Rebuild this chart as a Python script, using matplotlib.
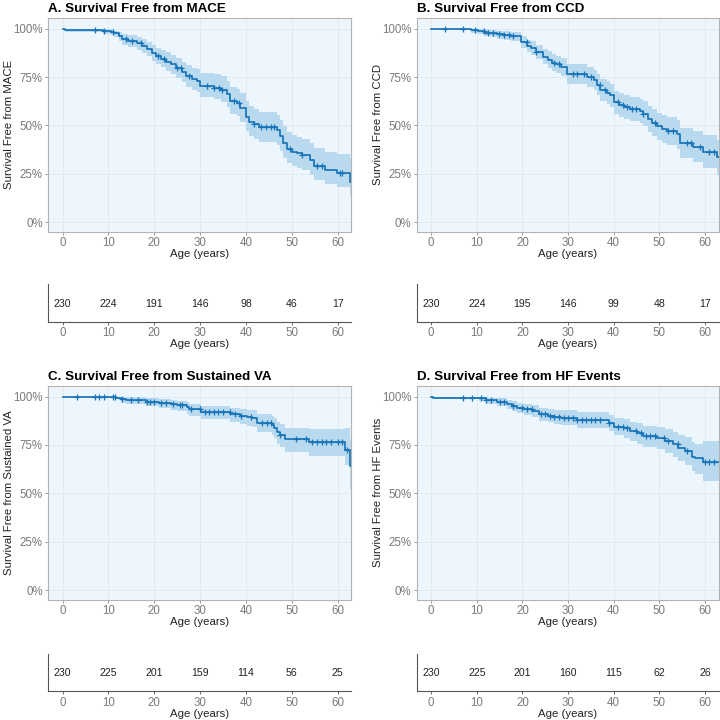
import numpy as np
import matplotlib
matplotlib.use("Agg")
import matplotlib.pyplot as plt

plt.rcParams['font.family'] = ['Liberation Sans', 'DejaVu Sans']

# ---- data ----
tA = [0, 0.4, 8.7, 10.5, 11.2, 12.3, 13, 14.2, 16.3, 17.4, 18.5, 19.6, 20.3, 21.4, 22.5, 23.6, 24.7, 26.1, 26.9, 28.3,
      29.4, 30, 33, 34.5, 35.9, 36.6, 38.1, 38.8, 39.9, 40.6, 41.7, 42.8, 46.8, 47.5, 48.1, 49, 50, 51.2, 52.2, 54,
      54.8, 57.3, 59.9, 62.6, 63]
sA = [1.0, 0.995, 0.988, 0.985, 0.975, 0.96, 0.945, 0.935, 0.925, 0.91, 0.895, 0.875, 0.86, 0.845, 0.83, 0.815, 0.795, 0.775, 0.755, 0.74,
      0.73, 0.705, 0.695, 0.685, 0.66, 0.625, 0.615, 0.59, 0.545, 0.52, 0.505, 0.49, 0.475, 0.445, 0.41, 0.38, 0.365, 0.355, 0.345, 0.32,
      0.29, 0.27, 0.255, 0.21, 0.21]
loA = [1.0, 0.985, 0.972, 0.968, 0.955, 0.935, 0.918, 0.905, 0.892, 0.875, 0.857, 0.835, 0.818, 0.80, 0.783, 0.766, 0.744, 0.722, 0.70, 0.683,
       0.672, 0.645, 0.634, 0.622, 0.595, 0.558, 0.547, 0.52, 0.473, 0.447, 0.43, 0.415, 0.40, 0.37, 0.334, 0.305, 0.29, 0.28, 0.27, 0.245,
       0.216, 0.195, 0.18, 0.135, 0.135]
upA = [1.0, 1.0, 1.0, 1.0, 0.99, 0.982, 0.972, 0.965, 0.957, 0.945, 0.933, 0.915, 0.902, 0.89, 0.877, 0.864, 0.846, 0.828, 0.81, 0.797,
       0.79, 0.77, 0.765, 0.755, 0.732, 0.70, 0.69, 0.668, 0.625, 0.60, 0.585, 0.57, 0.555, 0.527, 0.495, 0.465, 0.45, 0.44, 0.432, 0.41,
       0.383, 0.363, 0.35, 0.33, 0.33]
cA = [7.1, 9.1, 10.9, 13.8, 15.2, 17, 20.7, 22.1, 25, 25.8, 27.6, 31.6, 33, 34.1, 34.8, 37.3, 38.4, 41.7, 43.2, 44.3,
      45.4, 46.1, 49.7, 52.2, 55.5, 56.6, 60.6, 61]

tB = [0, 8.7, 10.2, 11.6, 13, 14.5, 16, 17.5, 19.6, 21.1, 21.8, 22.9, 24.4, 25.5, 26.5, 27.3, 28.4, 29.8, 34.2, 35.6,
      36.4, 37.1, 38.5, 39.3, 40, 41.1, 42.2, 43.6, 45.8, 46.5, 47.6, 48.4, 49.5, 50.5, 51.6, 53.8, 54.5, 57.5, 59.6, 62.7, 63]
sB = [1.0, 0.993, 0.986, 0.98, 0.975, 0.97, 0.965, 0.96, 0.93, 0.91, 0.90, 0.88, 0.855, 0.84, 0.825, 0.815, 0.80, 0.765, 0.75, 0.735,
      0.71, 0.685, 0.67, 0.655, 0.62, 0.605, 0.595, 0.585, 0.575, 0.56, 0.535, 0.515, 0.495, 0.48, 0.47, 0.455, 0.41, 0.39, 0.365, 0.335, 0.335]
loB = [1.0, 0.98, 0.97, 0.962, 0.955, 0.948, 0.94, 0.935, 0.90, 0.877, 0.865, 0.843, 0.815, 0.798, 0.782, 0.77, 0.753, 0.715, 0.698, 0.682,
       0.655, 0.628, 0.612, 0.596, 0.56, 0.544, 0.533, 0.522, 0.511, 0.495, 0.468, 0.447, 0.425, 0.408, 0.397, 0.38, 0.333, 0.31, 0.282, 0.245, 0.245]
upB = [1.0, 1.0, 1.0, 0.998, 0.995, 0.99, 0.988, 0.985, 0.96, 0.943, 0.935, 0.917, 0.895, 0.882, 0.868, 0.86, 0.847, 0.815, 0.802, 0.788,
       0.765, 0.742, 0.728, 0.714, 0.68, 0.666, 0.657, 0.648, 0.639, 0.625, 0.602, 0.583, 0.565, 0.552, 0.543, 0.53, 0.487, 0.47, 0.448, 0.425, 0.425]
cB = [3, 7, 9.5, 11.5, 12.5, 13.5, 14.8, 16, 17, 18, 21, 23, 27, 28, 31, 32, 33.5, 35, 37, 38,
      41, 42, 43, 44, 45, 46.5, 49, 52, 53, 56, 57, 59, 61, 62]

tC = [0, 11.6, 12.7, 13.8, 18.1, 21, 23.6, 25, 27.2, 27.6, 30.1, 36.6, 38.8, 40.3, 41.4, 42.4, 45.7, 46.1, 46.7, 47.5,
      48.6, 53.7, 61.7, 62.8, 63]
sC = [1.0, 0.995, 0.985, 0.98, 0.973, 0.968, 0.96, 0.955, 0.945, 0.935, 0.922, 0.91, 0.902, 0.895, 0.89, 0.865, 0.855, 0.84, 0.815, 0.80,
      0.78, 0.765, 0.725, 0.64, 0.64]
loC = [1.0, 0.985, 0.968, 0.96, 0.95, 0.943, 0.932, 0.925, 0.912, 0.90, 0.885, 0.87, 0.86, 0.85, 0.845, 0.815, 0.803, 0.785, 0.757, 0.74,
       0.715, 0.695, 0.645, 0.52, 0.52]
upC = [1.0, 1.0, 1.0, 0.997, 0.99, 0.987, 0.982, 0.978, 0.97, 0.962, 0.952, 0.943, 0.938, 0.932, 0.93, 0.91, 0.902, 0.89, 0.868, 0.856,
       0.84, 0.83, 0.835, 0.78, 0.78]
cC = [3.2, 7, 8, 9, 11, 11.5, 13, 15, 16.5, 18.5, 19, 20, 21.5, 22.5, 24, 25.5, 26, 28, 30, 31, 32, 33, 34, 35,
      36.5, 37.5, 39, 41, 43.5, 44.5, 45.5, 47.5, 51, 53, 54.5, 55.5, 56.5, 57.5, 58.5, 60, 61, 62]

tD = [0, 0.4, 10.5, 12, 14.5, 16.7, 17.8, 18.9, 20.4, 22.2, 23.6, 25.5, 26.9, 28.4, 32, 38.9, 40, 42.2, 43.6, 45.1,
      46.5, 49.5, 51.3, 53.1, 54.2, 55.6, 57.1, 57.8, 59.6, 63]
sD = [1.0, 0.995, 0.99, 0.98, 0.973, 0.96, 0.95, 0.94, 0.935, 0.925, 0.91, 0.902, 0.895, 0.89, 0.88, 0.865, 0.845, 0.835, 0.82, 0.81,
      0.795, 0.785, 0.77, 0.755, 0.735, 0.72, 0.69, 0.68, 0.66, 0.66]
loD = [1.0, 0.985, 0.977, 0.963, 0.953, 0.937, 0.925, 0.913, 0.906, 0.894, 0.876, 0.866, 0.858, 0.852, 0.84, 0.823, 0.80, 0.788, 0.77, 0.757,
       0.74, 0.727, 0.708, 0.69, 0.667, 0.648, 0.613, 0.60, 0.565, 0.565]
upD = [1.0, 1.0, 1.0, 0.995, 0.99, 0.982, 0.975, 0.967, 0.963, 0.955, 0.943, 0.937, 0.932, 0.928, 0.92, 0.907, 0.89, 0.882, 0.87, 0.862,
       0.85, 0.842, 0.83, 0.818, 0.802, 0.79, 0.765, 0.757, 0.77, 0.77]
cD = [7, 9, 11, 12, 13, 15, 16, 18, 20, 21, 22, 24, 25, 26, 27, 28, 29, 30, 31, 32, 33, 34, 35, 36, 37,
      39, 41, 42, 43, 45, 46, 47, 48, 49, 51, 52, 54, 56, 60, 61, 62]

risk_times = [0, 10, 20, 30, 40, 50, 60]
riskA = [230, 224, 191, 146, 98, 46, 17]
riskB = [230, 224, 195, 146, 99, 48, 17]
riskC = [230, 225, 201, 159, 114, 56, 25]
riskD = [230, 225, 201, 160, 115, 62, 26]

titles = ["A. Survival Free from MACE", "B. Survival Free from CCD",
          "C. Survival Free from Sustained VA", "D. Survival Free from HF Events"]
ylabels = ["Survival Free from MACE", "Survival Free from CCD",
           "Survival Free from Sustained VA", "Survival Free from HF Events"]

panels = [(tA, sA, loA, upA, cA, riskA), (tB, sB, loB, upB, cB, riskB),
          (tC, sC, loC, upC, cC, riskC), (tD, sD, loD, upD, cD, riskD)]

LINE = '#1874b8'
BAND = '#b9d9ee'
BG = '#eef6fd'

# axes positions [left, bottom, width, height] in figure fraction
main_pos = [[0.067, 0.678, 0.421, 0.297], [0.579, 0.678, 0.419, 0.297],
            [0.067, 0.167, 0.421, 0.297], [0.579, 0.167, 0.419, 0.297]]
table_pos = [[0.067, 0.553, 0.421, 0.052], [0.579, 0.553, 0.419, 0.052],
             [0.067, 0.040, 0.421, 0.052], [0.579, 0.040, 0.419, 0.052]]

fig = plt.figure(figsize=(7.2, 7.2), dpi=100)

for i, (t, s, lo, up, cens, risk) in enumerate(panels):
    ax = fig.add_axes(main_pos[i])
    ax.set_facecolor(BG)
    ax.fill_between(t, lo, up, step='post', color=BAND, linewidth=0)
    ax.step(t, s, where='post', color=LINE, lw=1.25)
    # censor marks sit on the curve
    idx = np.searchsorted(t, cens, side='right') - 1
    ax.plot(cens, np.array(s)[idx], '+', color=LINE, ms=5, mew=0.9)
    ax.set_xlim(-3.15, 63)
    ax.set_ylim(-0.05, 1.055)
    ax.set_xticks(risk_times)
    ax.set_yticks([0, 0.25, 0.5, 0.75, 1.0])
    ax.set_yticklabels(['0%', '25%', '50%', '75%', '100%'])
    ax.grid(True, color='#dde5ec', lw=0.5)
    ax.set_axisbelow(True)
    for sp in ax.spines.values():
        sp.set_color('#b3b3b3')
        sp.set_linewidth(0.8)
    ax.tick_params(colors='#8a8a8a', labelcolor='#7a7a7a', labelsize=8.3, length=2.5, width=0.6, pad=1.5)
    ax.set_xlabel("Age (years)", fontsize=8.2, color='#222222', labelpad=0)
    ax.set_ylabel(ylabels[i], fontsize=8.2, color='#222222')
    ax.yaxis.set_label_coords(-0.112, 0.5)
    ax.set_title(titles[i], fontsize=9.6, fontweight='bold', loc='left', x=-0.0, pad=4)

    tb = fig.add_axes(table_pos[i])
    tb.set_xlim(-3.15, 63)
    tb.set_ylim(0, 1)
    for x, n in zip(risk_times, risk):
        tb.text(x, 0.48, str(n), ha='center', va='center', fontsize=7.6, color='#222222')
    tb.set_xticks(risk_times)
    tb.set_yticks([])
    tb.spines['top'].set_visible(False)
    tb.spines['right'].set_visible(False)
    tb.spines['left'].set_color('#555555')
    tb.spines['bottom'].set_color('#555555')
    tb.tick_params(colors='#555555', labelcolor='#7a7a7a', labelsize=8.3, length=2.5, width=0.6, pad=1.5)
    tb.set_xlabel("Age (years)", fontsize=8.2, color='#222222', labelpad=0)

fig.savefig("out.png", dpi=100)
